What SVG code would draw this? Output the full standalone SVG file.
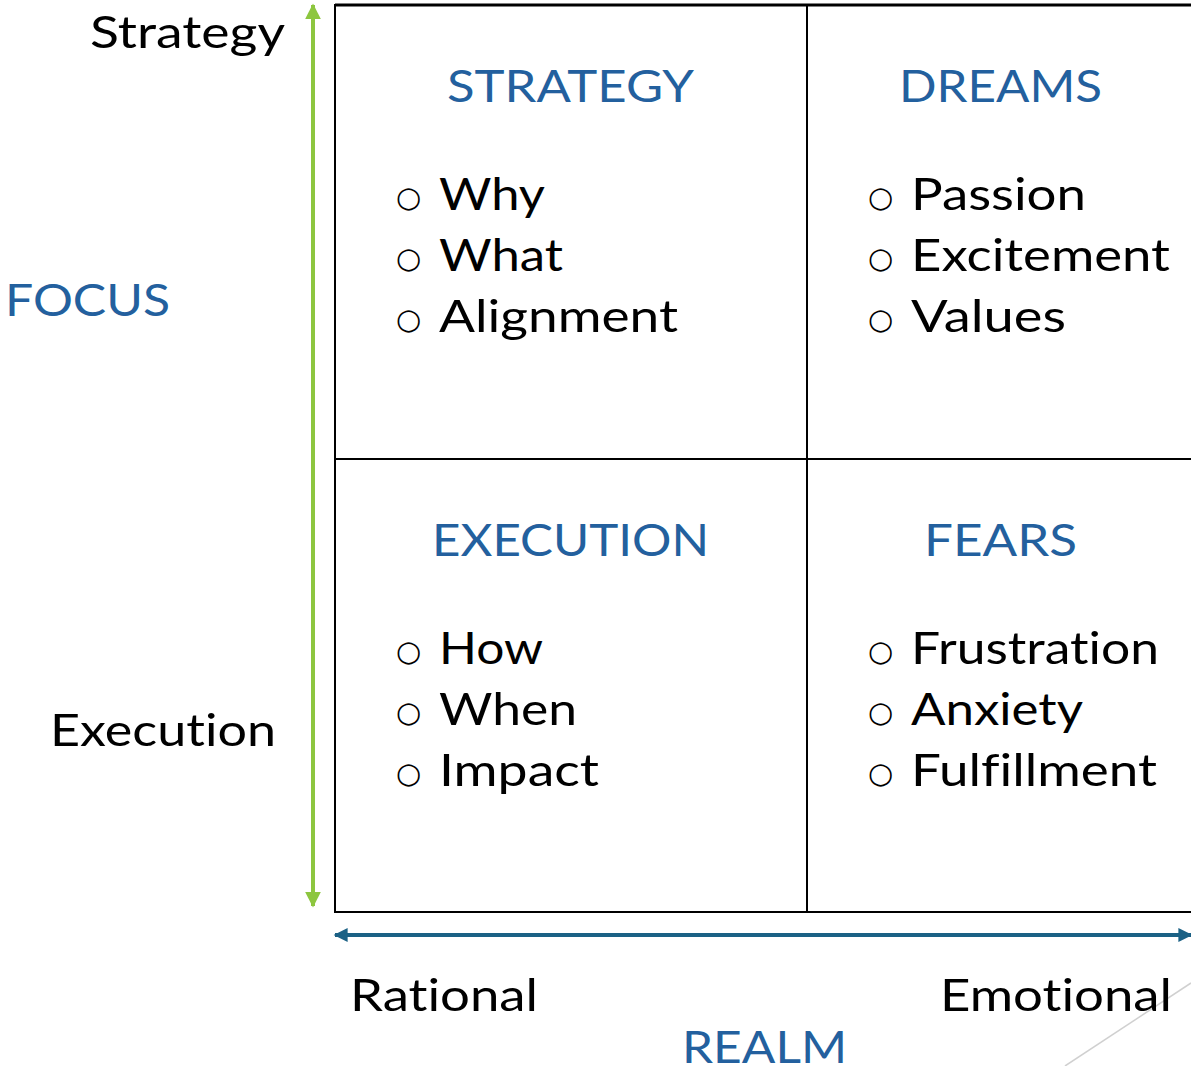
<svg xmlns="http://www.w3.org/2000/svg" width="1191" height="1066" viewBox="0 0 1191 1066">
  <style>
    text { font-family: "Lato", "Open Sans", "Liberation Sans", sans-serif; font-variant-ligatures: none; font-feature-settings: "liga" 0, "clig" 0, "dlig" 0; }
    .axis { font-size: 45px; fill: #000; }
    .title { font-size: 45px; fill: #23609E; }
    .item { font-size: 45px; fill: #000; }
    .bullet { font-family: "DejaVu Sans", sans-serif; font-size: 29px; fill: #000; }
    .grid { fill: none; stroke: #000; stroke-width: 2; }
  </style>
  <defs>
    <marker id="greenHead" viewBox="0 0 10 10" refX="9" refY="5" markerWidth="4" markerHeight="4" orient="auto-start-reverse" markerUnits="strokeWidth">
      <path d="M0,0 L10,5 L0,10 z" fill="#8DC63F"/>
    </marker>
    <marker id="blueHead" viewBox="0 0 10 10" refX="9" refY="5" markerWidth="4" markerHeight="3.5" orient="auto-start-reverse" markerUnits="strokeWidth">
      <path d="M0,0 L10,5 L0,10 z" fill="#1B6185"/>
    </marker>
  </defs>

  <!-- decorative slide line -->
  <line x1="1065" y1="1066" x2="1191" y2="983" stroke="#D0D0D0" stroke-width="1.5"/>

  <g id="connectors">
    <line id="focus-axis" x1="313" y1="5" x2="313" y2="906" stroke="#8DC63F" stroke-width="4" marker-start="url(#greenHead)" marker-end="url(#greenHead)"/>
    <line id="realm-axis" x1="335" y1="935" x2="1191" y2="935" stroke="#1B6185" stroke-width="4" marker-start="url(#blueHead)" marker-end="url(#blueHead)"/>
  </g>

  <!-- quadrant grid -->
  <g id="grid">
    <rect class="grid" x="335" y="5" width="870" height="907"/>
    <line x1="335" y1="5" x2="1191" y2="5" stroke="#000" stroke-width="3"/>
    <line x1="807" y1="5" x2="807" y2="912" stroke="#000" stroke-width="2"/>
    <line x1="335" y1="459" x2="1191" y2="459" stroke="#000" stroke-width="2"/>
  </g>

  <g id="axis-labels">
    <text class="axis" x="90" y="48" textLength="195" lengthAdjust="spacingAndGlyphs">Strategy</text>
    <text class="axis" x="50" y="746" textLength="226" lengthAdjust="spacingAndGlyphs">Execution</text>
    <text class="title" x="5" y="316" textLength="165" lengthAdjust="spacingAndGlyphs">FOCUS</text>
    <text class="axis" x="350" y="1011" textLength="188" lengthAdjust="spacingAndGlyphs">Rational</text>
    <text class="axis" x="940" y="1011" textLength="232" lengthAdjust="spacingAndGlyphs">Emotional</text>
    <text class="title" x="682" y="1063" textLength="165" lengthAdjust="spacingAndGlyphs">REALM</text>
  </g>

  <g id="strategy">
    <text class="title" x="447" y="102" textLength="247" lengthAdjust="spacingAndGlyphs">STRATEGY</text>
    <text class="bullet" x="396" y="207">○</text><text class="item" x="439" y="210" textLength="106" lengthAdjust="spacingAndGlyphs">Why</text>
    <text class="bullet" x="396" y="268">○</text><text class="item" x="439" y="271" textLength="124" lengthAdjust="spacingAndGlyphs">What</text>
    <text class="bullet" x="396" y="329">○</text><text class="item" x="439" y="332" textLength="239" lengthAdjust="spacingAndGlyphs">Alignment</text>
  </g>

  <g id="dreams">
    <text class="title" x="899" y="102" textLength="203" lengthAdjust="spacingAndGlyphs">DREAMS</text>
    <text class="bullet" x="868" y="207">○</text><text class="item" x="911" y="210" textLength="175" lengthAdjust="spacingAndGlyphs">Passion</text>
    <text class="bullet" x="868" y="268">○</text><text class="item" x="911" y="271" textLength="259" lengthAdjust="spacingAndGlyphs">Excitement</text>
    <text class="bullet" x="868" y="329">○</text><text class="item" x="911" y="332" textLength="155" lengthAdjust="spacingAndGlyphs">Values</text>
  </g>

  <g id="execution">
    <text class="title" x="432" y="556" textLength="277" lengthAdjust="spacingAndGlyphs">EXECUTION</text>
    <text class="bullet" x="396" y="661">○</text><text class="item" x="439" y="664" textLength="104" lengthAdjust="spacingAndGlyphs">How</text>
    <text class="bullet" x="396" y="722">○</text><text class="item" x="439" y="725" textLength="138" lengthAdjust="spacingAndGlyphs">When</text>
    <text class="bullet" x="396" y="783">○</text><text class="item" x="439" y="786" textLength="160" lengthAdjust="spacingAndGlyphs">Impact</text>
  </g>

  <g id="fears">
    <text class="title" x="924" y="556" textLength="153" lengthAdjust="spacingAndGlyphs">FEARS</text>
    <text class="bullet" x="868" y="661">○</text><text class="item" x="911" y="664" textLength="248" lengthAdjust="spacingAndGlyphs">Frustration</text>
    <text class="bullet" x="868" y="722">○</text><text class="item" x="911" y="725" textLength="172" lengthAdjust="spacingAndGlyphs">Anxiety</text>
    <text class="bullet" x="868" y="783">○</text><text class="item" x="911" y="786" textLength="246" lengthAdjust="spacingAndGlyphs">Fulfillment</text>
  </g>
</svg>
